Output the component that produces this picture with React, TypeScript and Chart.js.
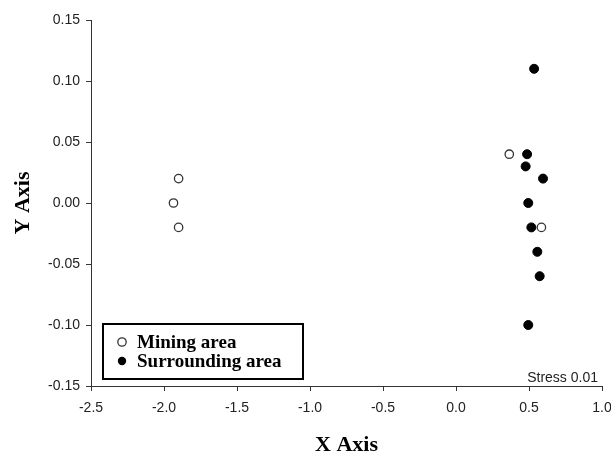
import React, { useEffect, useRef } from "react";
import { Chart, registerables } from "chart.js";

Chart.register(...registerables);

const miningX = [-1.9, -1.935, -1.9, 0.365, 0.585];
const miningY = [0.02, 0.0, -0.02, 0.04, -0.02];
const surroundX = [0.535, 0.487, 0.477, 0.596, 0.495, 0.516, 0.557, 0.573, 0.495];
const surroundY = [0.11, 0.04, 0.03, 0.02, 0.0, -0.02, -0.04, -0.06, -0.1];
const seriesNames = ["Mining area", "Surrounding area"];
const stressLabel = "Stress 0.01";
const xTitle = "X Axis";
const yTitle = "Y Axis";

const overlayPlugin = {
  id: "overlay",
  afterDraw(chart: any) {
    const ctx = chart.ctx;
    const area = chart.chartArea;
    ctx.save();
    ctx.font = "14px 'Liberation Sans', Arial, sans-serif";
    ctx.fillStyle = "#222";
    ctx.textAlign = "right";
    ctx.textBaseline = "alphabetic";
    ctx.fillText(stressLabel, area.right - 4, area.bottom - 4);
    const bx = area.left + 12;
    const by = area.bottom - 62;
    const bw = 200;
    const bh = 55;
    ctx.fillStyle = "#fff";
    ctx.fillRect(bx, by, bw, bh);
    ctx.lineWidth = 2;
    ctx.strokeStyle = "#000";
    ctx.strokeRect(bx, by, bw, bh);
    ctx.font = "bold 19px 'Liberation Serif', 'Times New Roman', serif";
    ctx.textAlign = "left";
    ctx.textBaseline = "middle";
    const rows = [by + 18, by + 37];
    seriesNames.forEach((name, i) => {
      const cy = rows[i];
      ctx.beginPath();
      ctx.arc(bx + 19, cy, 4.2, 0, Math.PI * 2);
      if (i === 0) {
        ctx.fillStyle = "#fff";
        ctx.fill();
        ctx.lineWidth = 1.3;
        ctx.strokeStyle = "#333";
        ctx.stroke();
      } else {
        ctx.fillStyle = "#000";
        ctx.fill();
      }
      ctx.fillStyle = "#000";
      ctx.fillText(name, bx + 34, cy + 1);
    });
    ctx.restore();
  },
};

export default function App() {
  const ref = useRef<HTMLCanvasElement | null>(null);
  useEffect(() => {
    if (!ref.current) return;
    const chart = new Chart(ref.current, {
      type: "scatter",
      data: {
        datasets: [
          {
            label: seriesNames[0],
            data: miningX.map((x, i) => ({ x, y: miningY[i] })),
            backgroundColor: "#fff",
            borderColor: "#333",
            borderWidth: 1.3,
            pointRadius: 4.2,
          },
          {
            label: seriesNames[1],
            data: surroundX.map((x, i) => ({ x, y: surroundY[i] })),
            backgroundColor: "#000",
            borderColor: "#000",
            borderWidth: 1,
            pointRadius: 4.5,
          },
        ],
      },
      options: {
        animation: false,
        responsive: false,
        devicePixelRatio: 1,
        layout: { padding: { left: 0, right: 9, top: 20, bottom: 0 } },
        plugins: {
          legend: { display: false },
          tooltip: { enabled: false },
        },
        scales: {
          x: {
            type: "linear",
            min: -2.5,
            max: 1.0,
            afterFit: (s: any) => {
              s.height = 69;
              s.paddingRight = 0;
              s.paddingLeft = 0;
            },
            ticks: {
              stepSize: 0.5,
              padding: 9,
              color: "#222",
              font: { family: "'Liberation Sans', Arial, sans-serif", size: 14 },
              callback: (v: any) => Number(v).toFixed(1),
              maxRotation: 0,
            },
            grid: {
              drawOnChartArea: false,
              drawTicks: true,
              tickLength: 5,
              color: "#333",
            },
            border: { color: "#333", width: 1 },
            title: {
              display: true,
              text: xTitle,
              color: "#000",
              font: { family: "'Liberation Serif', 'Times New Roman', serif", size: 22, weight: "bold", lineHeight: 1 },
              padding: { top: 0, bottom: -1 },
            },
          },
          y: {
            type: "linear",
            min: -0.15,
            max: 0.15,
            afterFit: (s: any) => {
              s.width = 91;
              s.paddingTop = 0;
              s.paddingBottom = 0;
            },
            ticks: {
              stepSize: 0.05,
              padding: 6,
              color: "#222",
              font: { family: "'Liberation Sans', Arial, sans-serif", size: 14 },
              callback: (v: any) => Number(v).toFixed(2),
            },
            grid: {
              drawOnChartArea: false,
              drawTicks: true,
              tickLength: 5,
              color: "#333",
            },
            border: { color: "#333", width: 1 },
            title: {
              display: true,
              text: yTitle,
              color: "#000",
              font: { family: "'Liberation Serif', 'Times New Roman', serif", size: 22, weight: "bold", lineHeight: 1 },
              padding: { top: 12, bottom: 0 },
            },
          },
        },
      },
      plugins: [overlayPlugin],
    });
    return () => chart.destroy();
  }, []);
  return (
    <div style={{ position: "fixed", left: 0, top: 0, width: 611, height: 455, background: "#fff" }}>
      <canvas ref={ref} width={611} height={455} />
    </div>
  );
}
